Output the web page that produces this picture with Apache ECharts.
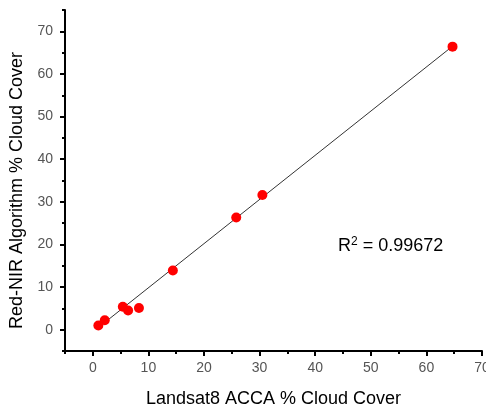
<!DOCTYPE html>
<html>
<head>
<meta charset="utf-8">
<script src="https://cdn.jsdelivr.net/npm/echarts@6/dist/echarts.min.js"></script>
<style>html,body{margin:0;padding:0;background:#fff}#c{width:486px;height:410px}</style>
</head>
<body>
<div id="c"></div>
<script>
const pointsX = [1.0, 2.15, 5.4, 6.35, 8.3, 14.4, 25.8, 30.5, 64.7];
const pointsY = [1.0, 2.2, 5.4, 4.5, 5.1, 13.9, 26.3, 31.6, 66.4];
const fitX = [0.9, 64.7];
const fitY = [0.4, 66.5];
const majorTicks = [0, 10, 20, 30, 40, 50, 60, 70];
const minorTicksX = [-5, 5, 15, 25, 35, 45, 55, 65];
const minorTicksY = [-5, 5, 15, 25, 35, 45, 55, 65, 75];
const xTitle = 'Landsat8 ACCA % Cloud Cover';
const yTitle = 'Red-NIR Algorithm % Cloud Cover';
const r2Label = '0.99672';

const font = '"Liberation Sans", Arial, sans-serif';
const chart = echarts.init(document.getElementById('c'));
const baseAxis = (min, max) => ({
  type: 'value', min: min, max: max, splitLine: {show: false}
});
chart.setOption({
  animation: false,
  grid: {left: 65, right: 4, top: 10, bottom: 59, containLabel: false, outerBoundsMode: 'none'},
  xAxis: [
    Object.assign(baseAxis(-5, 70), {
      position: 'bottom',
      axisLine: {show: true, onZero: false, lineStyle: {color: '#000', width: 2}},
      axisTick: {show: true, customValues: majorTicks, length: 5, lineStyle: {color: '#000', width: 2}},
      axisLabel: {customValues: majorTicks, margin: 10, color: '#555', fontSize: 14, fontFamily: font},
      name: xTitle, nameLocation: 'middle', nameGap: 39,
      nameTextStyle: {color: '#000', fontSize: 18, fontFamily: font}
    }),
    Object.assign(baseAxis(-5, 70), {
      position: 'bottom',
      axisLine: {show: false, onZero: false},
      axisTick: {show: true, customValues: minorTicksX, length: 3, lineStyle: {color: '#000', width: 2}},
      axisLabel: {show: false}
    })
  ],
  yAxis: [
    Object.assign(baseAxis(-5, 75), {
      position: 'left',
      axisLine: {show: true, onZero: false, lineStyle: {color: '#000', width: 2}},
      axisTick: {show: true, customValues: majorTicks, length: 5, lineStyle: {color: '#000', width: 2}},
      axisLabel: {customValues: majorTicks, margin: 12, color: '#555', fontSize: 14, fontFamily: font},
      name: yTitle, nameLocation: 'middle', nameGap: 35, nameRotate: 90,
      nameTextStyle: {color: '#000', fontSize: 18, fontFamily: font, padding: [0, 20, 0, 0]}
    }),
    Object.assign(baseAxis(-5, 75), {
      position: 'left',
      axisLine: {show: false, onZero: false},
      axisTick: {show: true, customValues: minorTicksY, length: 3, lineStyle: {color: '#000', width: 2}},
      axisLabel: {show: false}
    })
  ],
  series: [
    {
      type: 'line', xAxisIndex: 0, yAxisIndex: 0,
      data: fitX.map((x, i) => [x, fitY[i]]),
      symbol: 'none', lineStyle: {color: '#333', width: 1}, z: 1
    },
    {
      type: 'scatter', xAxisIndex: 0, yAxisIndex: 0,
      data: pointsX.map((x, i) => [x, pointsY[i]]),
      symbolSize: 10, itemStyle: {color: '#ff0000', opacity: 1}, z: 2
    }
  ],
  graphic: [{
    type: 'text', left: 338, top: 236,
    style: {
      text: '{a|R}{b|2}{a| = ' + r2Label + '}',
      rich: {
        a: {fontSize: 18, fontFamily: font, fill: '#000', lineHeight: 20},
        b: {fontSize: 12, fontFamily: font, fill: '#000', verticalAlign: 'top', lineHeight: 12}
      }
    }
  }]
});
</script>
</body>
</html>
